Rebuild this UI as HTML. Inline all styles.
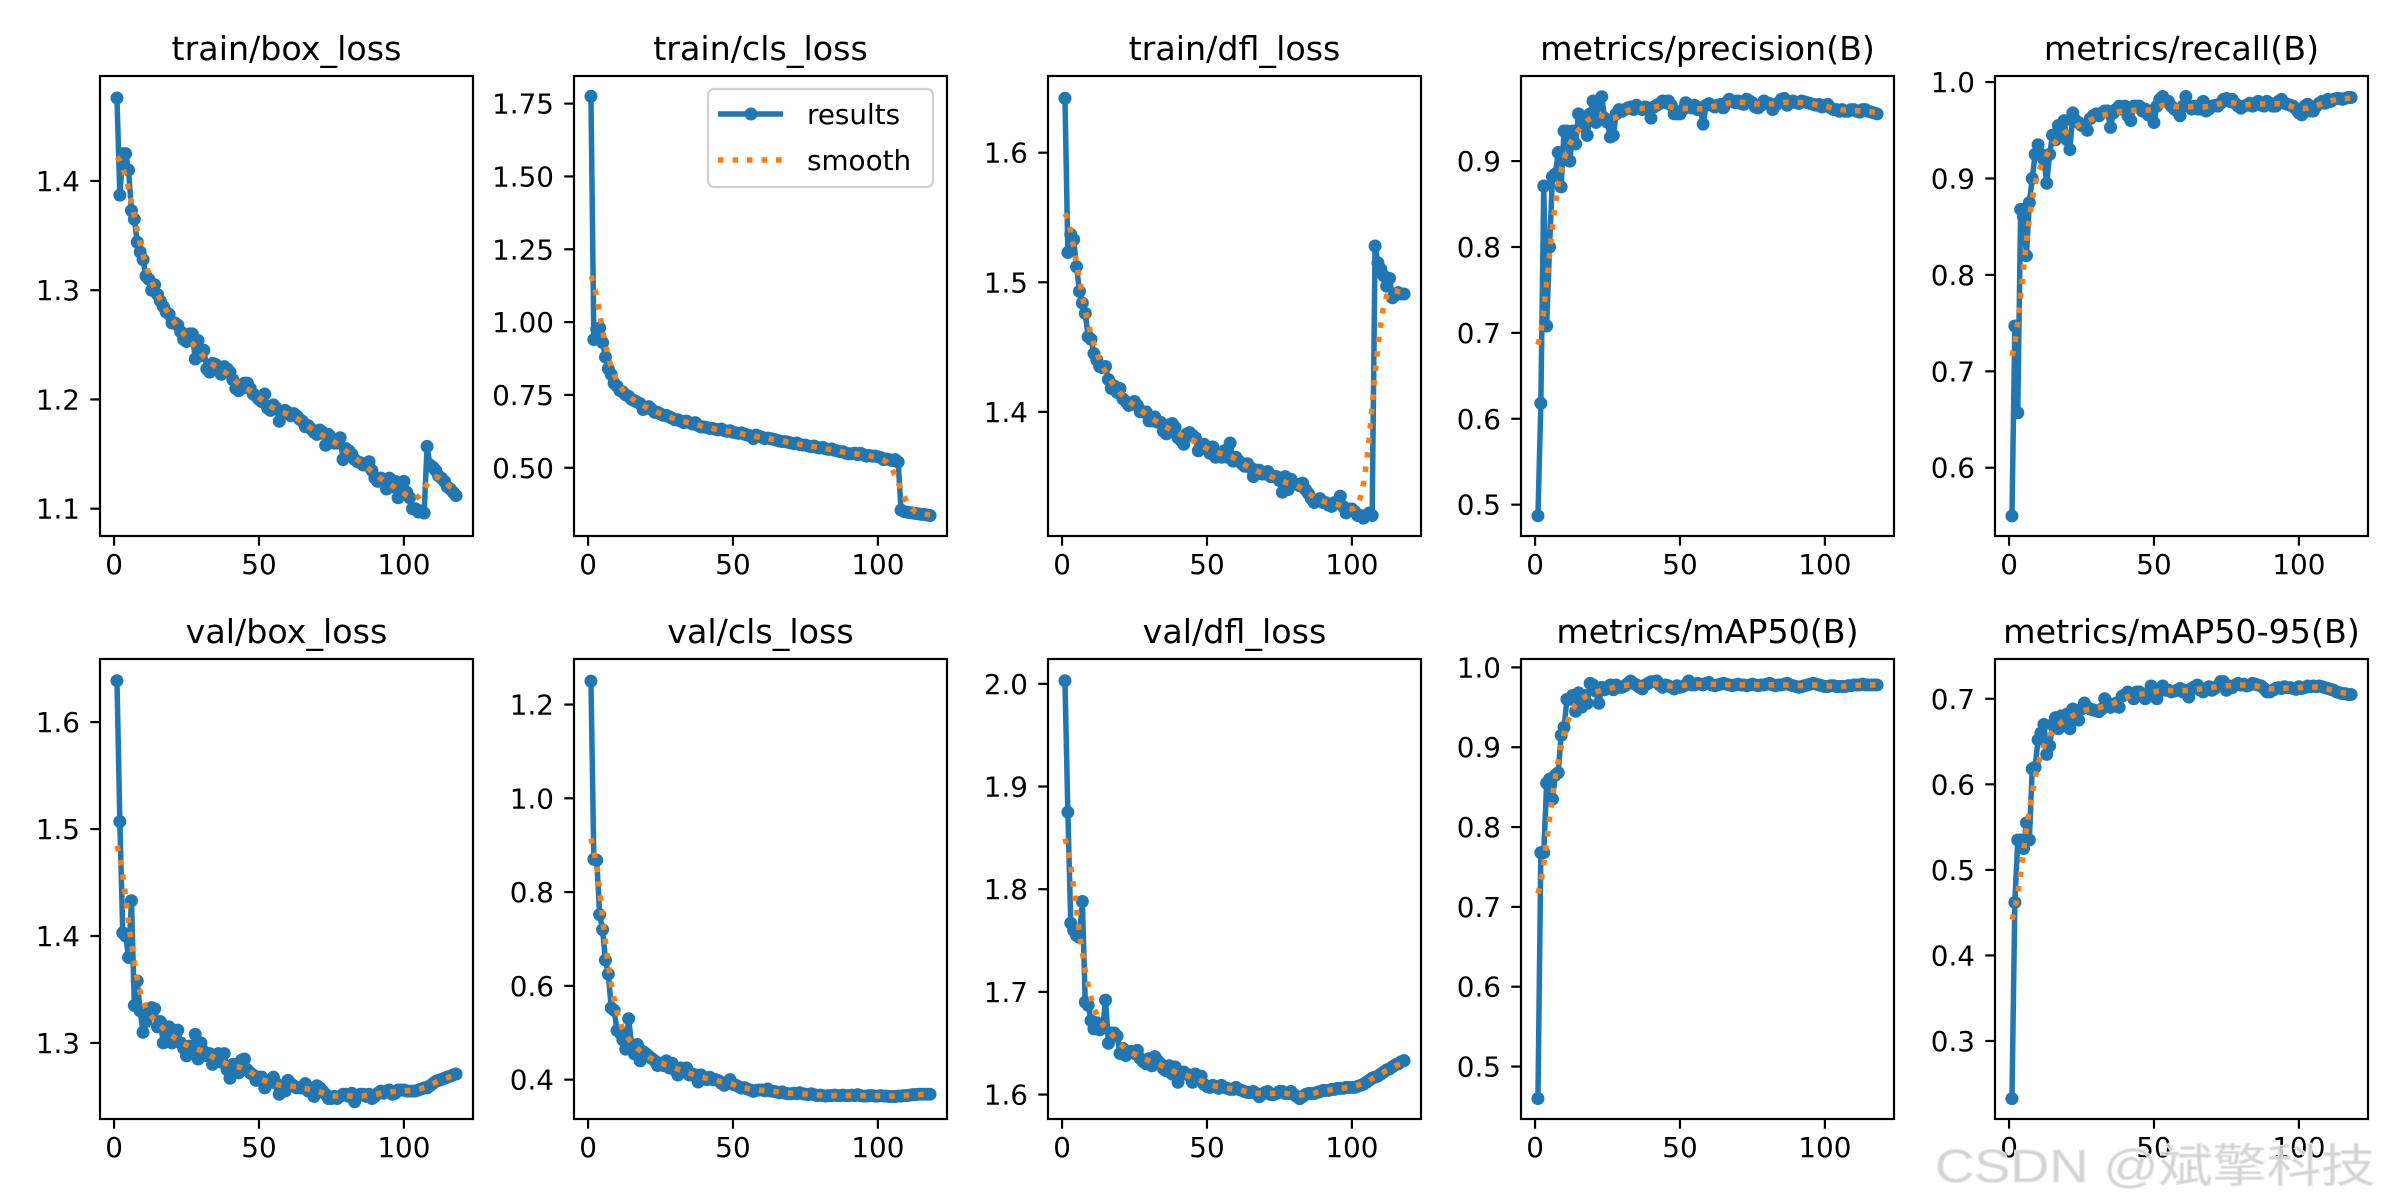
<!DOCTYPE html>
<html><head><meta charset="utf-8"><title>results</title>
<style>
html,body{margin:0;padding:0;background:#fff;}
svg{display:block;}
text{font-family:"DejaVu Sans","Liberation Sans",sans-serif;fill:#000;}
</style></head>
<body>
<svg id="fig" width="2400" height="1200" viewBox="0 0 2400 1200" xmlns="http://www.w3.org/2000/svg">
<rect width="2400" height="1200" fill="#fff"/>
</svg>
<script>
// ---- data (epoch = index + 1) ----
const trainBoxLoss = [1.476,1.387,1.425,1.425,1.41,1.373,1.365,1.344,1.335,1.328,1.313,1.31,1.30,1.305,1.296,1.29,1.285,1.28,1.278,1.27,1.27,1.268,1.262,1.255,1.253,1.26,1.26,1.237,1.254,1.24,1.245,1.228,1.225,1.233,1.232,1.23,1.223,1.23,1.228,1.225,1.218,1.21,1.208,1.21,1.215,1.215,1.21,1.205,1.203,1.2,1.198,1.205,1.192,1.19,1.195,1.192,1.18,1.188,1.19,1.188,1.185,1.187,1.185,1.182,1.18,1.175,1.176,1.173,1.17,1.168,1.172,1.17,1.158,1.168,1.165,1.16,1.16,1.165,1.145,1.155,1.153,1.15,1.145,1.143,1.142,1.14,1.14,1.143,1.135,1.128,1.125,1.128,1.127,1.118,1.128,1.12,1.125,1.11,1.115,1.125,1.115,1.11,1.1,1.1,1.097,1.098,1.096,1.157,1.14,1.138,1.135,1.13,1.128,1.125,1.12,1.118,1.115,1.112];
const trainClsLoss = [1.775,0.94,0.975,0.98,0.93,0.88,0.84,0.82,0.79,0.78,0.765,0.76,0.75,0.745,0.735,0.73,0.725,0.72,0.70,0.705,0.71,0.70,0.69,0.69,0.685,0.68,0.68,0.675,0.67,0.665,0.665,0.66,0.655,0.66,0.655,0.65,0.655,0.645,0.64,0.64,0.638,0.635,0.635,0.632,0.63,0.633,0.628,0.625,0.627,0.622,0.62,0.618,0.62,0.615,0.612,0.61,0.60,0.612,0.608,0.605,0.60,0.602,0.60,0.598,0.595,0.592,0.59,0.59,0.588,0.585,0.583,0.585,0.58,0.578,0.578,0.575,0.572,0.575,0.57,0.568,0.57,0.565,0.563,0.565,0.56,0.558,0.555,0.555,0.55,0.548,0.548,0.55,0.545,0.55,0.545,0.54,0.542,0.54,0.54,0.538,0.535,0.528,0.53,0.528,0.525,0.528,0.52,0.355,0.35,0.348,0.346,0.345,0.343,0.342,0.34,0.34,0.338,0.336];
const trainDflLoss = [1.642,1.523,1.537,1.533,1.512,1.493,1.484,1.476,1.458,1.456,1.445,1.44,1.435,1.434,1.435,1.425,1.418,1.42,1.415,1.418,1.41,1.408,1.405,1.406,1.408,1.405,1.40,1.40,1.40,1.393,1.393,1.396,1.392,1.392,1.385,1.383,1.39,1.391,1.388,1.38,1.378,1.375,1.383,1.384,1.382,1.38,1.37,1.372,1.375,1.372,1.368,1.373,1.365,1.367,1.365,1.37,1.365,1.376,1.362,1.365,1.362,1.36,1.358,1.36,1.357,1.35,1.355,1.355,1.352,1.352,1.354,1.35,1.35,1.35,1.347,1.338,1.35,1.34,1.348,1.345,1.344,1.343,1.345,1.34,1.337,1.333,1.33,1.332,1.333,1.33,1.33,1.328,1.327,1.33,1.33,1.335,1.327,1.322,1.325,1.325,1.323,1.32,1.32,1.318,1.32,1.322,1.32,1.528,1.515,1.51,1.505,1.497,1.503,1.488,1.49,1.492,1.491,1.491];
const precision = [0.487,0.618,0.871,0.708,0.80,0.882,0.885,0.91,0.87,0.935,0.935,0.90,0.935,0.92,0.955,0.95,0.94,0.93,0.955,0.97,0.945,0.965,0.975,0.95,0.945,0.928,0.93,0.955,0.96,0.958,0.96,0.962,0.963,0.96,0.965,0.962,0.96,0.963,0.962,0.95,0.963,0.965,0.967,0.97,0.968,0.97,0.965,0.955,0.955,0.955,0.96,0.968,0.965,0.962,0.965,0.96,0.962,0.943,0.965,0.967,0.965,0.963,0.965,0.966,0.962,0.968,0.972,0.97,0.968,0.97,0.967,0.966,0.972,0.97,0.968,0.963,0.962,0.965,0.97,0.968,0.967,0.96,0.965,0.968,0.972,0.973,0.965,0.968,0.97,0.968,0.967,0.97,0.969,0.968,0.967,0.966,0.965,0.966,0.963,0.965,0.966,0.962,0.96,0.96,0.958,0.96,0.958,0.958,0.96,0.96,0.958,0.957,0.96,0.96,0.958,0.957,0.956,0.955];
const recall = [0.55,0.747,0.657,0.868,0.86,0.82,0.875,0.90,0.925,0.935,0.925,0.92,0.895,0.925,0.945,0.94,0.955,0.945,0.96,0.94,0.93,0.968,0.96,0.958,0.955,0.955,0.95,0.962,0.965,0.967,0.965,0.968,0.97,0.97,0.953,0.968,0.972,0.975,0.972,0.975,0.965,0.96,0.975,0.975,0.975,0.97,0.972,0.966,0.97,0.958,0.975,0.982,0.985,0.98,0.98,0.975,0.972,0.97,0.965,0.975,0.985,0.975,0.972,0.975,0.972,0.972,0.98,0.97,0.972,0.975,0.976,0.975,0.978,0.982,0.983,0.98,0.982,0.978,0.975,0.973,0.975,0.976,0.978,0.975,0.978,0.98,0.976,0.975,0.98,0.978,0.975,0.975,0.98,0.982,0.978,0.977,0.976,0.975,0.972,0.968,0.966,0.975,0.977,0.97,0.97,0.975,0.978,0.98,0.978,0.982,0.98,0.982,0.983,0.983,0.982,0.983,0.984,0.984];
const valBoxLoss = [1.6387,1.507,1.403,1.40,1.38,1.433,1.335,1.358,1.33,1.31,1.32,1.328,1.333,1.332,1.315,1.32,1.30,1.31,1.315,1.30,1.305,1.312,1.30,1.295,1.288,1.297,1.295,1.308,1.285,1.30,1.292,1.288,1.29,1.28,1.285,1.29,1.282,1.29,1.275,1.267,1.28,1.28,1.272,1.284,1.285,1.275,1.272,1.27,1.265,1.268,1.268,1.258,1.262,1.265,1.268,1.262,1.252,1.26,1.255,1.265,1.262,1.26,1.258,1.258,1.258,1.262,1.255,1.255,1.25,1.26,1.258,1.255,1.252,1.248,1.248,1.25,1.248,1.25,1.252,1.252,1.25,1.253,1.245,1.25,1.252,1.252,1.25,1.252,1.248,1.25,1.253,1.255,1.253,1.255,1.256,1.252,1.253,1.256,1.256,1.256,1.255,1.255,1.255,1.255,1.256,1.257,1.258,1.258,1.26,1.262,1.264,1.265,1.266,1.267,1.268,1.269,1.27,1.271];
const valClsLoss = [1.25,0.87,0.868,0.752,0.72,0.655,0.625,0.553,0.548,0.505,0.50,0.485,0.465,0.53,0.475,0.455,0.475,0.44,0.46,0.455,0.45,0.445,0.44,0.43,0.435,0.43,0.44,0.425,0.435,0.42,0.41,0.425,0.42,0.425,0.41,0.412,0.41,0.395,0.41,0.403,0.40,0.405,0.40,0.40,0.398,0.392,0.388,0.395,0.40,0.39,0.388,0.385,0.382,0.383,0.38,0.378,0.375,0.377,0.378,0.378,0.376,0.38,0.376,0.375,0.374,0.372,0.374,0.371,0.37,0.37,0.371,0.37,0.372,0.37,0.369,0.368,0.37,0.368,0.366,0.367,0.366,0.365,0.366,0.366,0.367,0.366,0.366,0.367,0.366,0.366,0.367,0.366,0.368,0.366,0.365,0.365,0.366,0.366,0.365,0.365,0.366,0.365,0.365,0.364,0.364,0.364,0.365,0.365,0.366,0.366,0.367,0.368,0.368,0.369,0.369,0.369,0.369,0.369];
const valDflLoss = [2.003,1.875,1.767,1.76,1.755,1.753,1.788,1.69,1.687,1.672,1.664,1.67,1.663,1.665,1.692,1.65,1.66,1.66,1.657,1.64,1.645,1.638,1.642,1.642,1.64,1.643,1.635,1.632,1.63,1.635,1.628,1.637,1.633,1.63,1.625,1.623,1.628,1.62,1.627,1.612,1.62,1.622,1.62,1.618,1.612,1.62,1.615,1.618,1.61,1.608,1.607,1.609,1.608,1.606,1.609,1.607,1.606,1.605,1.605,1.607,1.605,1.604,1.603,1.602,1.602,1.603,1.601,1.598,1.60,1.602,1.603,1.60,1.60,1.601,1.603,1.603,1.601,1.601,1.603,1.60,1.598,1.596,1.598,1.60,1.601,1.601,1.601,1.602,1.603,1.604,1.604,1.604,1.605,1.605,1.606,1.606,1.606,1.607,1.607,1.607,1.607,1.608,1.609,1.61,1.612,1.614,1.616,1.617,1.618,1.62,1.622,1.624,1.625,1.627,1.629,1.63,1.632,1.633];
const map50 = [0.46,0.768,0.768,0.855,0.86,0.835,0.865,0.868,0.915,0.925,0.96,0.96,0.965,0.945,0.968,0.95,0.965,0.955,0.98,0.978,0.97,0.955,0.975,0.972,0.975,0.978,0.972,0.978,0.975,0.975,0.977,0.98,0.983,0.98,0.978,0.975,0.973,0.978,0.98,0.982,0.982,0.983,0.978,0.975,0.978,0.977,0.975,0.973,0.977,0.975,0.976,0.978,0.983,0.978,0.978,0.98,0.979,0.978,0.98,0.981,0.978,0.977,0.978,0.979,0.98,0.979,0.978,0.977,0.978,0.979,0.978,0.978,0.977,0.978,0.979,0.978,0.977,0.978,0.978,0.979,0.98,0.978,0.977,0.978,0.978,0.979,0.98,0.978,0.977,0.976,0.975,0.976,0.977,0.978,0.979,0.98,0.979,0.978,0.977,0.976,0.976,0.977,0.977,0.976,0.976,0.976,0.976,0.977,0.977,0.978,0.978,0.978,0.979,0.978,0.978,0.978,0.978,0.978];
const map5095 = [0.2326,0.462,0.535,0.535,0.525,0.555,0.535,0.618,0.62,0.652,0.66,0.67,0.635,0.645,0.67,0.678,0.665,0.68,0.675,0.682,0.665,0.688,0.685,0.675,0.688,0.695,0.69,0.688,0.687,0.686,0.685,0.688,0.70,0.695,0.69,0.692,0.695,0.69,0.703,0.705,0.708,0.705,0.70,0.708,0.708,0.703,0.70,0.706,0.715,0.71,0.70,0.712,0.715,0.71,0.71,0.708,0.709,0.71,0.712,0.708,0.71,0.702,0.712,0.714,0.716,0.71,0.708,0.712,0.714,0.71,0.712,0.715,0.72,0.72,0.71,0.715,0.713,0.716,0.718,0.716,0.717,0.715,0.716,0.718,0.717,0.716,0.715,0.712,0.708,0.708,0.71,0.712,0.713,0.712,0.714,0.713,0.713,0.712,0.711,0.714,0.712,0.713,0.715,0.714,0.715,0.714,0.715,0.714,0.713,0.712,0.711,0.71,0.708,0.707,0.706,0.706,0.705,0.705];

const titles = ["train/box_loss","train/cls_loss","train/dfl_loss","metrics/precision(B)","metrics/recall(B)","val/box_loss","val/cls_loss","val/dfl_loss","metrics/mAP50(B)","metrics/mAP50-95(B)"];
const seriesList = [trainBoxLoss,trainClsLoss,trainDflLoss,precision,recall,valBoxLoss,valClsLoss,valDflLoss,map50,map5095];
const yTicks = [[1.1,1.2,1.3,1.4],[0.5,0.75,1.0,1.25,1.5,1.75],[1.4,1.5,1.6],[0.5,0.6,0.7,0.8,0.9],[0.6,0.7,0.8,0.9,1.0],[1.3,1.4,1.5,1.6],[0.4,0.6,0.8,1.0,1.2],[1.6,1.7,1.8,1.9,2.0],[0.5,0.6,0.7,0.8,0.9,1.0],[0.3,0.4,0.5,0.6,0.7]];
const yTickDecimals = [1,2,1,1,1,1,1,1,1,1];
const xTicks = [0,50,100];

// ---- layout ----
const SVGNS = "http://www.w3.org/2000/svg";
const svg = document.getElementById('fig');
const colLeft = [100,574,1048,1521,1995];
const rowTop = [76,659];
const AW = 373, AH = 460;
const yLims = [[1.075,1.4961],[0.2659,1.8447],[1.3042,1.6592],[0.4635,0.9991],[0.5292,1.0063],[1.2289,1.659],[0.3161,1.2971],[1.5762,2.0242],[0.4343,1.0105],[0.2088,0.7465]];
const BLUE = "#1f77b4", ORANGE = "#ff7f0e";

function mk(tag, attrs, parent){
  const e = document.createElementNS(SVGNS, tag);
  for (const k in attrs) e.setAttribute(k, attrs[k]);
  (parent||svg).appendChild(e);
  return e;
}
function gaussSmooth(y, sigma){
  const r = Math.round(4*sigma), n = y.length, w = [];
  let s = 0;
  for (let k=-r;k<=r;k++){ const v=Math.exp(-0.5*k*k/(sigma*sigma)); w.push(v); s+=v; }
  const out = [];
  for (let i=0;i<n;i++){
    let acc=0;
    for (let k=-r;k<=r;k++){
      let j=i+k;
      while (j<0||j>=n){ if (j<0) j=-j-1; if (j>=n) j=2*n-j-1; }
      acc += w[k+r]*y[j];
    }
    out.push(acc/s);
  }
  return out;
}

seriesList.forEach((data, p) => {
  const L = colLeft[p%5], T = rowTop[Math.floor(p/5)];
  const n = data.length;
  const xmin = 1 - 0.05*(n-1), xmax = n + 0.05*(n-1);
  const X = v => L + (v - xmin)/(xmax - xmin)*AW;
  const [ymin, ymax] = yLims[p];
  const Y = v => T + AH - (v - ymin)/(ymax - ymin)*AH;

  const g = mk('g', {});
  
  

  const pts = data.map((v,i)=>X(i+1).toFixed(2)+','+Y(v).toFixed(2)).join(' ');
  const line = mk('polyline', {points:pts, fill:'none', stroke:BLUE, 'stroke-width':5.5, 'stroke-linejoin':'round'}, g);
  
  
  const mg = mk('g', {fill:BLUE}, g);
  
  
  data.forEach((v,i)=>{
    const c = mk('circle', {cx:X(i+1).toFixed(2), cy:Y(v).toFixed(2), r:6.5}, mg);
    
    
  });
  const sm = gaussSmooth(data, 3);
  const spts = sm.map((v,i)=>X(i+1).toFixed(2)+','+Y(v).toFixed(2)).join(' ');
  const sl = mk('polyline', {points:spts, fill:'none', stroke:ORANGE, 'stroke-width':5.5, 'stroke-dasharray':'5.5 9'}, g);
  
  

  const fr = mk('rect', {x:L, y:T, width:AW, height:AH, fill:'none', stroke:'#000', 'stroke-width':2.2}, g);
  
  

  xTicks.forEach(t=>{
    const x = X(t);
    const tk = mk('line', {x1:x, x2:x, y1:T+AH, y2:T+AH+9.7, stroke:'#000', 'stroke-width':2.2}, g);
    
    
    const tl = mk('text', {x:x, y:T+AH+38, 'text-anchor':'middle', 'font-size':27.8}, g);
    tl.textContent = String(t);
    
    
  });
  yTicks[p].forEach(t=>{
    const y = Y(t);
    const tk = mk('line', {x1:L-9.7, x2:L, y1:y, y2:y, stroke:'#000', 'stroke-width':2.2}, g);
    
    
    const tl = mk('text', {x:L-20, y:y+10, 'text-anchor':'end', 'font-size':27.8}, g);
    tl.textContent = t.toFixed(yTickDecimals[p]);
    
    
  });
  const tt = mk('text', {x:L+AW/2, y:T-16, 'text-anchor':'middle', 'font-size':33.3}, g);
  tt.textContent = titles[p];
  
  

  if (p === 1){
    const lg = mk('g', {}, g);
    
    
    mk('rect', {x:708, y:89, width:225, height:98, rx:6, fill:'#fff', 'fill-opacity':0.8, stroke:'#d0d0d0', 'stroke-width':2.2}, lg);
    const e1 = mk('g', {}, lg);
    
    
    mk('line', {x1:718, x2:783, y1:114, y2:114, stroke:BLUE, 'stroke-width':5.5}, e1);
    mk('circle', {cx:751, cy:114, r:6.5, fill:BLUE}, e1);
    const t1 = mk('text', {x:807, y:124, 'font-size':27.8}, e1);
    t1.textContent = 'results';
    const e2 = mk('g', {}, lg);
    
    
    mk('line', {x1:718, x2:783, y1:160, y2:160, stroke:ORANGE, 'stroke-width':5.5, 'stroke-dasharray':'5.5 9'}, e2);
    const t2 = mk('text', {x:807, y:170, 'font-size':27.8}, e2);
    t2.textContent = 'smooth';
  }
});

const wm = mk('text', {x:1935, y:1182, 'font-size':46, textLength:440, lengthAdjust:'spacingAndGlyphs', style:'font-family:"Liberation Sans","Noto Sans CJK SC",sans-serif;fill:#cfcfcf;fill-opacity:0.9;stroke:#e8e8e8;stroke-width:1;'});
wm.textContent = 'CSDN @斌擎科技';


</script>
</body></html>
